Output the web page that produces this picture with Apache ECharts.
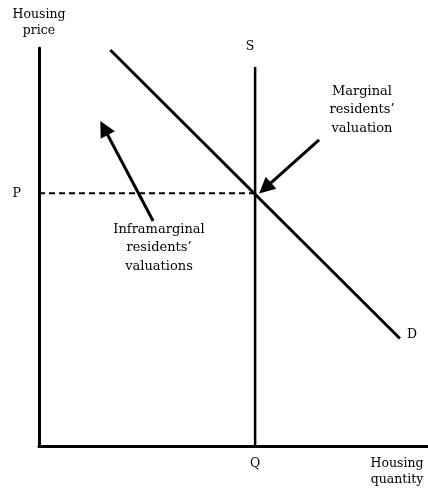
<!DOCTYPE html>
<html>
<head>
<meta charset="utf-8">
<script src="https://cdn.jsdelivr.net/npm/echarts@6/dist/echarts.min.js"></script>
<style>
  html, body { margin: 0; padding: 0; background: #fff; }
  #main { width: 428px; height: 489px; }
</style>
</head>
<body>
<div id="main"></div>
<script>
// 数据：需求曲线、供给线、价格 P、数量 Q
var priceP = 12.7;
var quantityQ = 10;
var demandLine = [[3.3, 19.9], [16.7, 5.4]];
var supplyLine = [[10, 0], [10, 19.05]];
var priceLine = [[0, 12.7], [10, 12.7]];
var arrowMarginal = [[12.96, 15.38], [10.46, 12.96]];
var arrowInframarginal = [[5.28, 11.31], [3.01, 15.98]];

var font = 'DejaVu Serif';
var txt = { fontFamily: font, fontSize: 12, fill: '#000', textAlign: 'center', textVerticalAlign: 'middle' };

function label(x, y, text, lh, size) {
    return {
        type: 'text', x: x, y: y,
        style: Object.assign({}, txt, { text: text, lineHeight: lh || 16, fontSize: size || 12 })
    };
}

var myChart = echarts.init(document.getElementById('main'));
option = {
    animation: false,
    grid: { left: 39, right: 0, top: 48, bottom: 43 },
    xAxis: {
        type: 'value', min: 0, max: 18,
        axisLine: { lineStyle: { color: '#000', width: 3 } },
        axisTick: { show: false },
        splitLine: { show: false },
        axisLabel: {
            customValues: [quantityQ],
            formatter: function () { return 'Q'; },
            margin: 11, color: '#000', fontFamily: font, fontSize: 12.5
        }
    },
    yAxis: {
        type: 'value', min: 0, max: 20,
        axisLine: { lineStyle: { color: '#000', width: 3 } },
        axisTick: { show: false },
        splitLine: { show: false },
        axisLabel: {
            customValues: [priceP],
            formatter: function () { return 'P'; },
            margin: 18, color: '#000', fontFamily: font, fontSize: 12.5
        },
        name: 'Housing\nprice',
        nameLocation: 'end',
        nameGap: 9,
        nameTextStyle: { color: '#000', fontFamily: font, fontSize: 12.5, lineHeight: 16, align: 'center' }
    },
    graphic: [
        label(250, 47, 'S', 16, 12.5),
        label(412, 335, 'D', 16, 12.5),
        label(362, 110, 'Marginal\nresidents\u2019\nvaluation', 18.5, 13),
        label(159, 248, 'Inframarginal\nresidents\u2019\nvaluations', 18.3, 13),
        label(397, 472, 'Housing\nquantity', 16, 12.5)
    ],
    series: [
        {
            type: 'line', data: demandLine, showSymbol: false, silent: true,
            lineStyle: { color: '#000', width: 3 }
        },
        {
            type: 'line', data: supplyLine, showSymbol: false, silent: true,
            lineStyle: { color: '#000', width: 2.5 }
        },
        {
            type: 'line', data: priceLine, showSymbol: false, silent: true,
            lineStyle: { color: '#000', width: 2, type: [6, 4] }
        },
        {
            type: 'lines', coordinateSystem: 'cartesian2d', silent: true,
            symbol: ['none', 'triangle'], symbolSize: [12, 16],
            lineStyle: { color: '#000', width: 3, opacity: 1 },
            data: [
                { coords: arrowMarginal },
                { coords: arrowInframarginal }
            ]
        }
    ]
};
myChart.setOption(option);
</script>
</body>
</html>
